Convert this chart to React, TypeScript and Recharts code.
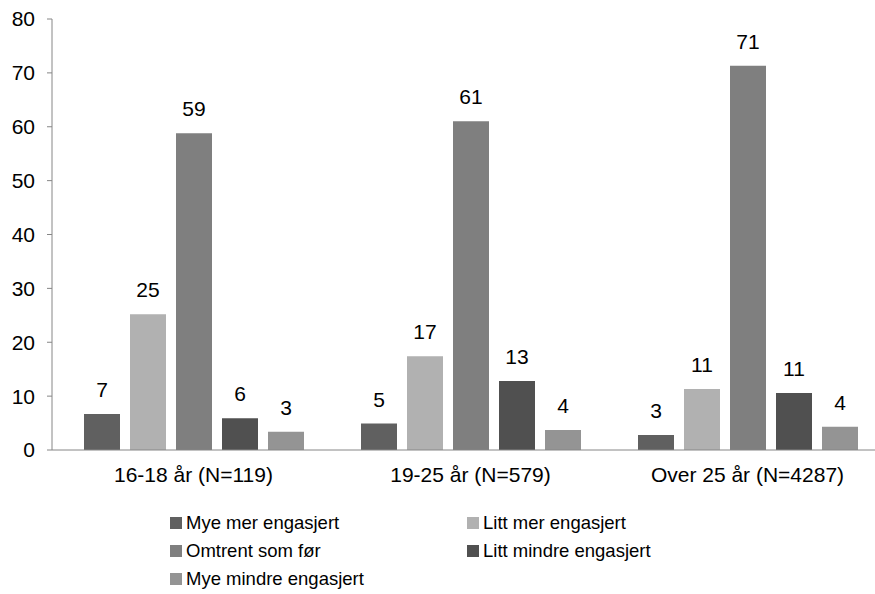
import { BarChart, Bar, XAxis, YAxis, LabelList } from 'recharts';

const groups = ['16-18 år (N=119)', '19-25 år (N=579)', 'Over 25 år (N=4287)'];
const seriesNames = [
  'Mye mer engasjert',
  'Litt mer engasjert',
  'Omtrent som før',
  'Litt mindre engasjert',
  'Mye mindre engasjert',
];
const seriesColors = ['#606060', '#b1b1b1', '#7f7f7f', '#505050', '#949494'];
const myeMer = [6.7, 4.9, 2.8];
const littMer = [25.2, 17.4, 11.3];
const omtrent = [58.8, 61.0, 71.3];
const littMindre = [5.9, 12.8, 10.6];
const myeMindre = [3.4, 3.7, 4.3];
const yTicks = [0, 10, 20, 30, 40, 50, 60, 70, 80];

const seriesValues = [myeMer, littMer, omtrent, littMindre, myeMindre];
const keys = ['s0', 's1', 's2', 's3', 's4'];

const data = groups.map((g, i) => {
  const row: Record<string, string | number> = { name: g };
  seriesValues.forEach((vals, s) => {
    row[keys[s]] = vals[i];
  });
  return row;
});

const font = '"Liberation Sans", Arial, sans-serif';

function ChartLegend() {
  return (
    <div
      style={{
        position: 'absolute',
        left: 170,
        top: 509,
        display: 'grid',
        gridTemplateColumns: '297px 300px',
        gridAutoRows: '28px',
        fontFamily: font,
        fontSize: 18.5,
        lineHeight: '22px',
        color: '#000',
      }}
    >
      {seriesNames.map((n, i) => (
        <div key={n} style={{ display: 'flex', alignItems: 'center', whiteSpace: 'nowrap' }}>
          <span
            style={{
              display: 'inline-block',
              width: 12,
              height: 12,
              background: seriesColors[i],
              marginRight: 4,
            }}
          />
          {n}
        </div>
      ))}
    </div>
  );
}

export default function App() {
  return (
    <div style={{ position: 'relative', width: 875, height: 594, overflow: 'hidden', background: '#fff' }}>
      <style>{'html,body{margin:0;padding:0;overflow:hidden}'}</style>
      <BarChart
        width={886}
        height={594}
        data={data}
        margin={{ top: 19, right: 0, bottom: 114, left: 0 }}
        barSize={36}
        barGap={10}
      >
        <XAxis
          dataKey="name"
          height={30}
          padding={{ left: 3, right: 0 }}
          axisLine={{ stroke: '#868686' }}
          tickLine={false}
          tickSize={0}
          tickMargin={17}
          tick={{ fill: '#000', fontSize: 21, fontFamily: font }}
        />
        <YAxis
          width={52}
          domain={[0, 80]}
          ticks={yTicks}
          interval={0}
          axisLine={{ stroke: '#868686' }}
          tickLine={{ stroke: '#868686' }}
          tickSize={5}
          tickMargin={12}
          tick={{ fill: '#000', fontSize: 21, fontFamily: font }}
        />
        {keys.map((k, i) => (
          <Bar key={k} dataKey={k} name={seriesNames[i]} fill={seriesColors[i]} isAnimationActive={false}>
            <LabelList
              dataKey={k}
              position="top"
              offset={17}
              formatter={(v: number) => Math.round(v)}
              style={{ fill: '#000', fontSize: 21, fontFamily: font }}
            />
          </Bar>
        ))}
      </BarChart>
      <ChartLegend />
    </div>
  );
}
